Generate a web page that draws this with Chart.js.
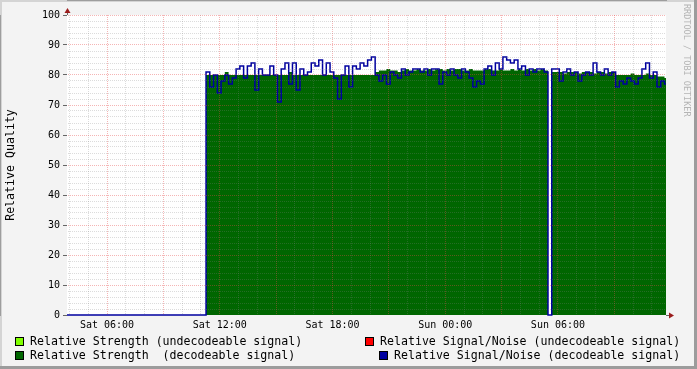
<!DOCTYPE html>
<html>
<head>
<meta charset="utf-8">
<title>Relative Quality</title>
<script src="https://cdn.jsdelivr.net/npm/chart.js@4.4.0/dist/chart.umd.min.js"></script>
<style>
  body { margin: 0; background: #f3f3f3; }
  #wrap { position: relative; width: 697px; height: 369px; overflow: hidden; }
  #chart { position: absolute; left: 0; top: 0; }
  .leg { position: absolute; font-family: 'DejaVu Sans Mono', monospace; font-size: 11.6px; line-height: 14px; white-space: pre; color: #000; }
  .sw { position: absolute; width: 7px; height: 7px; border: 1px solid #000; }
  #credit { position: absolute; left: 682px; top: 4px; writing-mode: vertical-rl; font-family: 'DejaVu Sans Mono', monospace; font-size: 8.5px; line-height: 10px; color: #b4b4b4; white-space: pre; }
</style>
</head>
<body>
<div id="wrap">
  <canvas id="chart" width="697" height="369"></canvas>
  <div id="legend"></div>
  <div id="credit">RRDTOOL / TOBI OETIKER</div>
</div>
<script>
// time axis in hours since Sat 00:00
const xMin = 3.87;
const xMax = 35.75;
const dataStart = 11.27;
const sampleStep = 0.2;

const tickHours = [6, 12, 18, 24, 30];
const tickLabels = ['Sat 06:00', 'Sat 12:00', 'Sat 18:00', 'Sun 00:00', 'Sun 06:00'];

// Relative Signal/Noise (decodeable signal)
const snDecoded = [
  81, 76, 80, 74, 78, 80, 77, 79, 82, 83,
  79, 83, 84, 75, 82, 80, 80, 83, 80, 71,
  82, 84, 77, 84, 75, 82, 80, 81, 84, 83,
  85, 80, 84, 81, 79, 72, 80, 83, 76, 83,
  82, 84, 83, 85, 86, 80, 78, 80, 77, 81,
  80, 79, 82, 80, 81, 82, 82, 81, 82, 80,
  82, 82, 77, 81, 80, 82, 80, 79, 82, 81,
  79, 76, 78, 77, 82, 83, 80, 84, 82, 86,
  85, 84, 85, 82, 83, 80, 82, 81, 82, 82,
  81, 0, 82, 82, 78, 81, 82, 80, 81, 78,
  80, 81, 80, 84, 81, 80, 82, 80, 81, 76,
  78, 77, 79, 78, 77, 79, 82, 84, 79, 81,
  76, 78, 77
];

// Relative Strength (decodeable signal)
const strengthDecoded = [
  80, 80, 80, 80, 80, 81, 80, 80, 80, 80,
  80, 80, 80, 80, 80, 80, 80, 80, 80, 80,
  80, 80, 81, 80, 80, 80, 80, 80, 80, 80,
  80, 80, 80, 80, 80, 80, 80, 80, 80, 80,
  80, 80, 80, 80, 80, 81, 81.5, 81.5, 82, 81.5,
  81.5, 81, 81.5, 82, 81.5, 81.5, 82, 81.5, 81.5, 82,
  81.5, 82, 82, 81.5, 82, 81.5, 82, 82, 81.5, 81.5,
  82, 81.5, 81.5, 81.5, 82, 82, 81.5, 81.5, 82, 81.5,
  81.5, 82, 81.5, 82, 81.5, 82, 81.5, 82, 81.5, 82,
  81.5, 0, 81, 81, 81, 80.5, 81, 81, 81, 80.5,
  81, 81, 81, 80.5, 81, 81, 80.5, 81, 81, 80,
  80, 80, 80, 80.5, 80, 80, 80, 80.5, 80, 80,
  79.5, 79.5, 79
];

const legendNames = [
  'Relative Strength (undecodeable signal)',
  'Relative Signal/Noise (undecodeable signal)',
  'Relative Strength  (decodeable signal)',
  'Relative Signal/Noise (decodeable signal)'
];
const legendColors = ['#80ff00', '#ff0000', '#006600', '#0000a0'];

const monoFont = "'DejaVu Sans Mono', monospace";
const minorGrid = 'rgba(128,128,128,0.28)';
const majorGrid = 'rgba(230,70,70,0.4)';

// rrd samples: each value covers the step ending at its timestamp
function toPoints(values) {
    const pts = [{x: xMin, y: 0}, {x: dataStart, y: 0}];
    values.forEach((v, i) => pts.push({x: dataStart + (i + 1) * sampleStep, y: v}));
    return pts;
}

// Legend in html
function renderLegend() {
    const box = document.getElementById('legend');
    const spots = [
        {sw: [15, 337], txt: [30, 334]},
        {sw: [365, 337], txt: [380, 334]},
        {sw: [15, 351], txt: [30, 348]},
        {sw: [379, 351], txt: [394, 348]}
    ];
    box.innerHTML = legendNames.map((name, i) => `
        <div class="sw" style="left:${spots[i].sw[0]}px;top:${spots[i].sw[1]}px;background:${legendColors[i]}"></div>
        <div class="leg" style="left:${spots[i].txt[0]}px;top:${spots[i].txt[1]}px">${name}</div>
    `).join('');
}

// Background, frame and axis arrows
const rrdFrame = {
    id: 'rrdFrame',
    beforeDraw(chart) {
        const {ctx, chartArea: a, width, height} = chart;
        ctx.save();
        ctx.fillStyle = '#f3f3f3';
        ctx.fillRect(0, 0, width, height);
        ctx.fillStyle = '#ffffff';
        ctx.fillRect(a.left, a.top, a.right - a.left, a.bottom - a.top);
        ctx.fillStyle = '#d4d4d4';
        ctx.fillRect(0, 0, width, 2);
        ctx.fillRect(0, 0, 2, height);
        ctx.fillStyle = '#9c9c9c';
        ctx.fillRect(width - 3, 0, 3, height);
        ctx.fillRect(0, height - 3, width, 3);
        ctx.restore();
    },
    afterDraw(chart) {
        const {ctx, chartArea: a} = chart;
        const x0 = Math.round(a.left) + 0.5;
        const y0 = Math.round(a.bottom) + 0.5;
        ctx.save();
        ctx.strokeStyle = '#666';
        ctx.lineWidth = 1;
        ctx.beginPath();
        ctx.moveTo(x0, a.top);
        ctx.lineTo(x0, a.top - 3);
        ctx.moveTo(a.right, y0);
        ctx.lineTo(a.right + 3, y0);
        ctx.stroke();
        ctx.fillStyle = '#9a1c1c';
        ctx.beginPath();
        ctx.moveTo(x0, a.top - 7);
        ctx.lineTo(x0 - 3, a.top - 2);
        ctx.lineTo(x0 + 3, a.top - 2);
        ctx.closePath();
        ctx.fill();
        ctx.beginPath();
        ctx.moveTo(a.right + 8, y0);
        ctx.lineTo(a.right + 3, y0 - 3);
        ctx.lineTo(a.right + 3, y0 + 3);
        ctx.closePath();
        ctx.fill();
        ctx.restore();
    }
};

function renderChart() {
    const ctx = document.getElementById('chart').getContext('2d');
    new Chart(ctx, {
        type: 'line',
        data: {
            datasets: [{
                label: legendNames[3],
                data: toPoints(snDecoded),
                borderColor: legendColors[3],
                borderWidth: 1.5,
                stepped: 'after',
                fill: false,
                pointRadius: 0,
                clip: {left: 0, right: 0, top: 5, bottom: 2}
            }, {
                label: legendNames[2],
                data: toPoints(strengthDecoded),
                borderWidth: 0,
                borderColor: legendColors[2],
                backgroundColor: legendColors[2],
                stepped: 'after',
                fill: 'origin',
                pointRadius: 0
            }]
        },
        options: {
            responsive: false,
            animation: false,
            layout: {padding: {left: 0, right: 31, top: 15, bottom: 0}},
            plugins: {
                legend: {display: false},
                tooltip: {enabled: false}
            },
            scales: {
                x: {
                    type: 'linear',
                    min: xMin,
                    max: xMax,
                    afterBuildTicks: (scale) => {
                        const t = [];
                        for (let h = Math.ceil(xMin); h <= Math.floor(xMax); h++) t.push({value: h});
                        scale.ticks = t;
                    },
                    afterFit: (scale) => { scale.height = 54; },
                    grid: {
                        z: 1,
                        drawTicks: false,
                        color: (c) => c.tick && c.tick.value % 3 === 0 ? majorGrid : minorGrid
                    },
                    border: {display: true, color: '#666', width: 1, dash: [1, 1]},
                    ticks: {
                        autoSkip: false,
                        maxRotation: 0,
                        padding: 4,
                        color: '#000',
                        font: {family: monoFont, size: 10},
                        callback: (v) => {
                            const i = tickHours.indexOf(v);
                            return i >= 0 ? tickLabels[i] : '';
                        }
                    }
                },
                y: {
                    min: 0,
                    max: 100,
                    afterFit: (scale) => { scale.width = 67; },
                    grid: {
                        z: 1,
                        tickLength: 4,
                        color: (c) => !c.tick || c.tick.value === 0 ? 'transparent' : (c.tick.value % 10 === 0 ? majorGrid : minorGrid),
                        tickColor: (c) => c.tick && c.tick.value % 10 === 0 ? '#666' : 'transparent'
                    },
                    border: {display: true, color: '#666', width: 1, dash: [1, 1]},
                    ticks: {
                        stepSize: 2,
                        autoSkip: false,
                        padding: 3,
                        color: '#000',
                        font: {family: monoFont, size: 10},
                        callback: (v) => v % 10 === 0 ? String(v) : ''
                    },
                    title: {
                        display: true,
                        text: 'Relative Quality',
                        color: '#000',
                        padding: {top: 4, bottom: 0},
                        font: {family: monoFont, size: 11.6, weight: 'normal'}
                    }
                }
            }
        },
        plugins: [rrdFrame]
    });
}

renderLegend();
renderChart();
</script>
</body>
</html>
